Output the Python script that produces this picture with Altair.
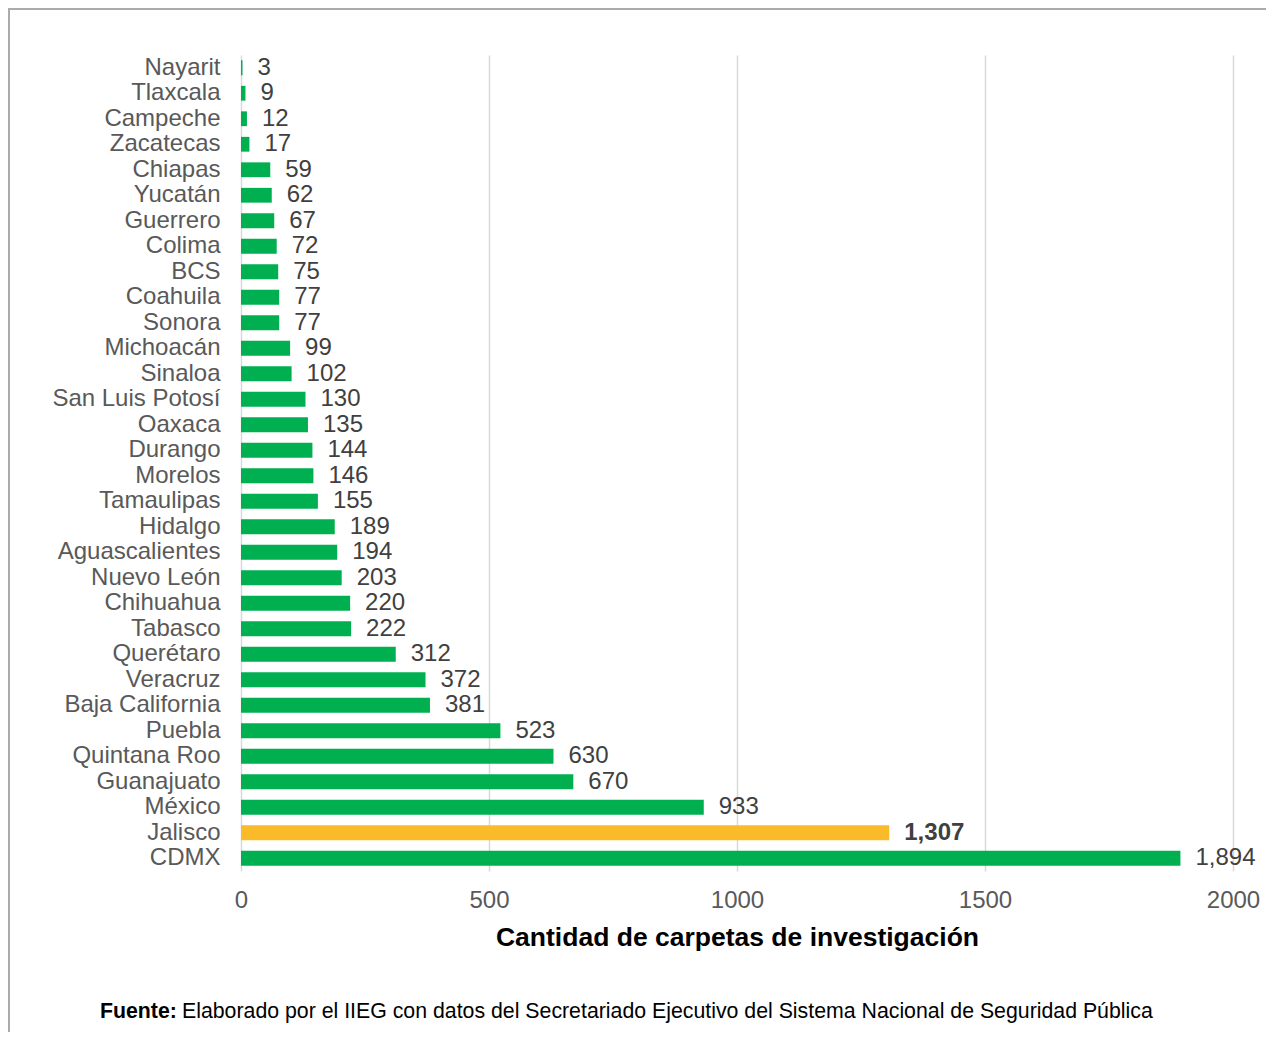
import altair as alt
import pandas as pd

estados = ["Nayarit", "Tlaxcala", "Campeche", "Zacatecas", "Chiapas", "Yucatán", "Guerrero",
           "Colima", "BCS", "Coahuila", "Sonora", "Michoacán", "Sinaloa", "San Luis Potosí",
           "Oaxaca", "Durango", "Morelos", "Tamaulipas", "Hidalgo", "Aguascalientes",
           "Nuevo León", "Chihuahua", "Tabasco", "Querétaro", "Veracruz", "Baja California",
           "Puebla", "Quintana Roo", "Guanajuato", "México", "Jalisco", "CDMX"]
carpetas = [3, 9, 12, 17, 59, 62, 67, 72, 75, 77, 77, 99, 102, 130, 135, 144, 146, 155, 189,
            194, 203, 220, 222, 312, 372, 381, 523, 630, 670, 933, 1307, 1894]
destacado = "Jalisco"

df = pd.DataFrame({"estado": estados, "valor": carpetas})
df["grupo"] = ["Jalisco" if e == destacado else "Otro" for e in estados]

FONT = "Liberation Sans"

y_enc = alt.Y("estado:N", sort=estados, title=None,
              scale=alt.Scale(paddingInner=0.42, paddingOuter=0.21),
              axis=alt.Axis(labelFont=FONT, labelFontSize=24, labelColor="#595959",
                            labelPadding=21, ticks=False, domain=False, grid=False))
x_enc = alt.X("valor:Q", title="Cantidad de carpetas de investigación",
              scale=alt.Scale(domain=[0, 2000]),
              axis=alt.Axis(values=[0, 500, 1000, 1500, 2000], format="d",
                            labelFont=FONT, labelFontSize=24, labelColor="#595959",
                            labelPadding=17, labelFlush=False, ticks=False, domain=False,
                            grid=True, gridColor="#d9d9d9", gridWidth=1.5,
                            titleFont=FONT, titleFontSize=26.5, titleFontWeight="bold",
                            titleColor="#000000", titlePadding=12))

base = alt.Chart(df)

bars = base.mark_bar().encode(
    y=y_enc, x=x_enc,
    color=alt.Color("grupo:N", scale=alt.Scale(domain=["Otro", "Jalisco"],
                                               range=["#00B050", "#FBBA2A"]), legend=None),
)

labels = base.transform_filter(alt.datum.estado != destacado).mark_text(
    align="left", baseline="middle", dx=15, font=FONT, fontSize=24, color="#404040"
).encode(y=alt.Y("estado:N", sort=estados), x="valor:Q", text=alt.Text("valor:Q", format=","))

labels_b = base.transform_filter(alt.datum.estado == destacado).mark_text(
    align="left", baseline="middle", dx=15, font=FONT, fontSize=24, fontWeight="bold",
    color="#404040"
).encode(y=alt.Y("estado:N", sort=estados), x="valor:Q", text=alt.Text("valor:Q", format=","))

one = alt.Chart(pd.DataFrame({"k": [0]}))

frame = one.mark_rect(fill=None, stroke="#ABABAB", strokeWidth=2).encode(
    x=alt.value(-232), x2=alt.value(1060), y=alt.value(-46), y2=alt.value(1040)
)

fuente_b = one.mark_text(align="left", baseline="middle", font=FONT, fontSize=21.3,
                         fontWeight="bold", color="#000000").encode(
    x=alt.value(-141), y=alt.value(957), text=alt.value("Fuente:"))
fuente = one.mark_text(align="left", baseline="middle", font=FONT, fontSize=21.3,
                       color="#000000").encode(
    x=alt.value(-59), y=alt.value(957),
    text=alt.value("Elaborado por el IIEG con datos del Secretariado Ejecutivo del Sistema Nacional de Seguridad Pública"))

chart = alt.layer(bars, labels, labels_b, frame, fuente_b, fuente).properties(
    width=992, height=816,
    autosize=alt.AutoSizeParams(type="none"),
    padding={"left": 233, "top": 47, "right": 33, "bottom": 161},
).configure_view(stroke=None)

chart.save("out.html", embed_options={"renderer": "svg", "actions": False})
